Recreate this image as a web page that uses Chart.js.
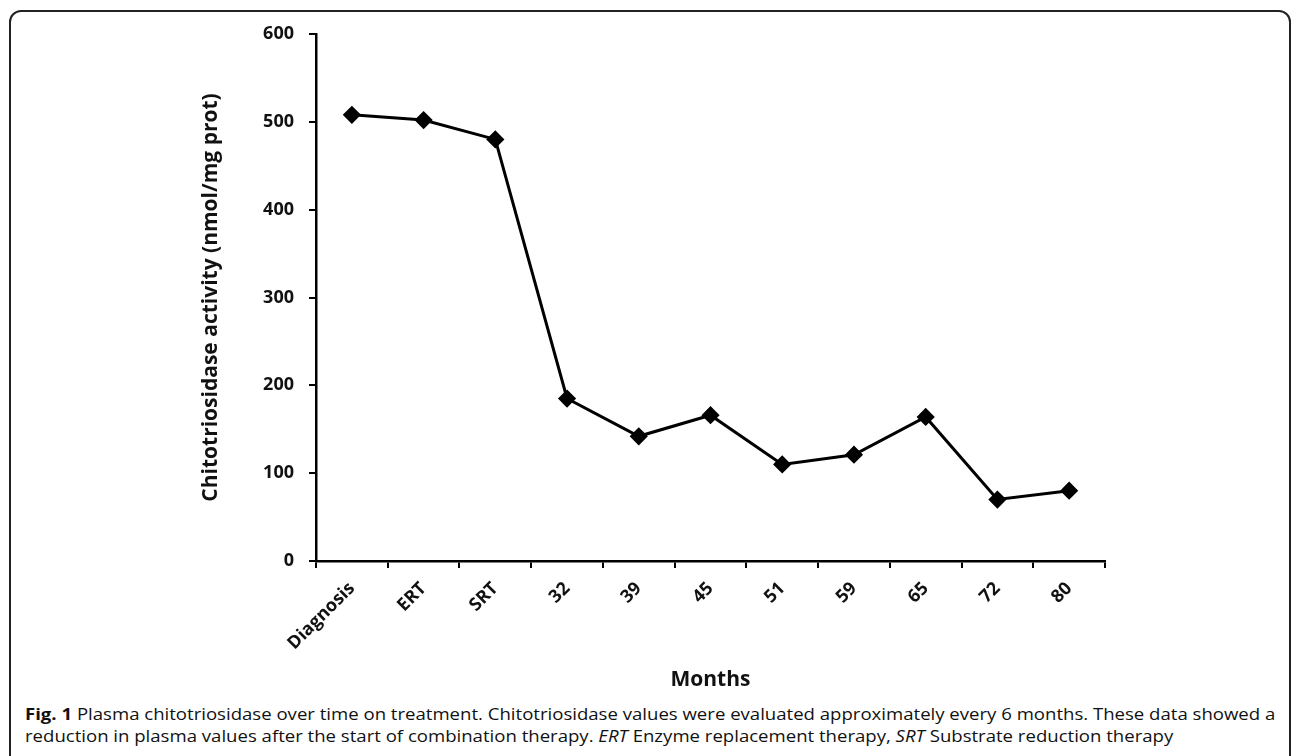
<!DOCTYPE html>
<html>
<head>
<meta charset="utf-8">
<script src="https://cdn.jsdelivr.net/npm/chart.js@4"></script>
<style>
  body { margin: 0; background: #fff; width: 1292px; height: 756px; overflow: hidden; position: relative; }
  #frame { position: absolute; left: 9px; top: 10px; width: 1278px; height: 800px;
           border: 2px solid #222; border-radius: 12px; }
  #wrap { position: absolute; left: 0; top: 0; width: 1292px; height: 693px; }
  #caption { position: absolute; left: 25px; top: 703px; font-family: "Open Sans", sans-serif;
             font-size: 16px; line-height: 22px; color: #111; white-space: nowrap; transform-origin: 0 0; }
</style>
</head>
<body>
<div id="frame"></div>
<div id="wrap"><canvas id="chart"></canvas></div>
<div id="caption"><b>Fig. 1</b> Plasma chitotriosidase over time on treatment. Chitotriosidase values were evaluated approximately every 6 months. These data showed a<br>reduction in plasma values after the start of combination therapy. <i>ERT</i> Enzyme replacement therapy, <i>SRT</i> Substrate reduction therapy</div>
<script>
const categories = ['Diagnosis', 'ERT', 'SRT', '32', '39', '45', '51', '59', '65', '72', '80'];
const activity = [508, 502, 480, 185, 142, 166, 110, 121, 164, 70, 80];
const yTicks = [0, 100, 200, 300, 400, 500, 600];

const fontFamily = '"Open Sans", sans-serif';

// stretch caption so the first line spans the frame like the original
const cap = document.getElementById('caption');
cap.style.transform = 'scaleX(' + (1250 / cap.scrollWidth) + ')';

new Chart(document.getElementById('chart'), {
    type: 'line',
    data: {
        labels: categories,
        datasets: [{
            data: activity,
            borderColor: '#000',
            backgroundColor: '#000',
            borderWidth: 3,
            pointStyle: 'rectRot',
            pointRadius: 7,
            pointHoverRadius: 7,
            tension: 0
        }]
    },
    options: {
        responsive: true,
        maintainAspectRatio: false,
        animation: false,
        layout: { padding: { left: 198, right: 187, top: 34, bottom: 0 } },
        plugins: { legend: { display: false }, tooltip: { enabled: false } },
        scales: {
            x: {
                offset: true,
                grid: { offset: true, drawOnChartArea: false, drawTicks: true, tickLength: 7, color: '#000', lineWidth: 2 },
                border: { display: true, color: '#000', width: 2.5 },
                ticks: { color: '#111', font: { family: fontFamily, size: 18, weight: 'bold' }, maxRotation: 45, minRotation: 45, padding: 10 },
                title: {
                    display: true, text: 'Months', color: '#111', padding: 0,
                    font: { family: fontFamily, size: 21, weight: 'bold' }
                },
                afterFit: s => { s.height = 132; }
            },
            y: {
                min: 0, max: 600,
                afterBuildTicks: s => { s.ticks = yTicks.map(v => ({ value: v })); },
                grid: { drawOnChartArea: false, drawTicks: true, tickLength: 7, color: '#000', lineWidth: 2 },
                border: { display: true, color: '#000', width: 2.5 },
                ticks: { color: '#111', font: { family: fontFamily, size: 18, weight: 'bold' }, padding: 15 },
                title: {
                    display: true, text: 'Chitotriosidase activity (nmol/mg prot)', color: '#111', padding: 0,
                    font: { family: fontFamily, size: 21, weight: 'bold' }
                },
                afterFit: s => { s.width = 118; }
            }
        }
    }
});
</script>
</body>
</html>
